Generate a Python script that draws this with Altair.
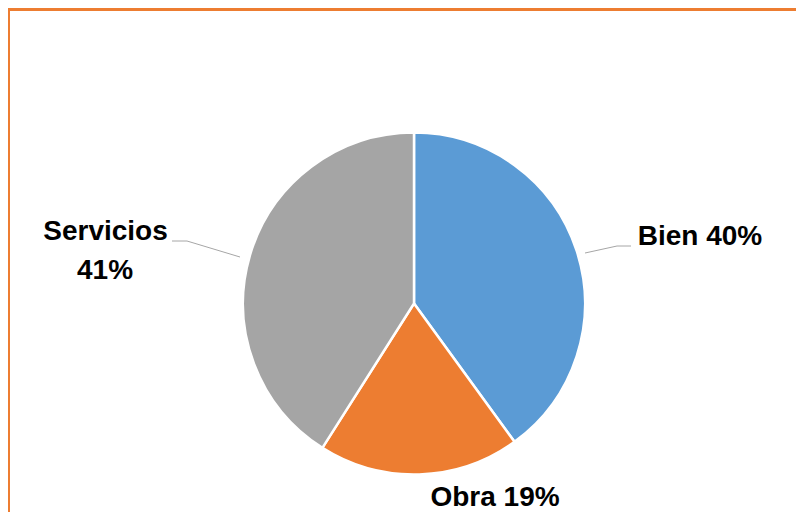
import altair as alt
import pandas as pd

# Data
categories = ["Bien", "Obra", "Servicios"]
values = [40, 19, 41]
colors = ["#5B9BD5", "#ED7D31", "#A5A5A5"]

# Label texts
label_texts = ["Bien 40%", "Obra 19%", "Servicios", "41%"]
# Label layout (pixel positions inside the chart)
label_x = [692, 487, 97.5, 97]
label_y = [229, 490, 224, 263]

# Leader lines layout
leader_id = ["s", "s", "s", "b", "b", "b"]
leader_x = [164, 179, 232, 577, 609, 623]
leader_y = [233, 233, 249, 245, 238, 238]

W, H = 788, 504
CX, CY, R = 406, 295.5, 171

pie_df = pd.DataFrame({"cat": categories, "value": values, "idx": list(range(len(categories)))})
lab_df = pd.DataFrame({"t": label_texts, "x": label_x, "y": label_y})
lead_df = pd.DataFrame({"g": leader_id, "x": leader_x, "y": leader_y, "o": list(range(len(leader_x)))})

xs = alt.Scale(domain=[0, W], range=[0, W], nice=False, zero=False)
ys = alt.Scale(domain=[0, H], range=[0, H], nice=False, zero=False)

pie = alt.Chart(pie_df).mark_arc(outerRadius=R, stroke="white", strokeWidth=2.5).encode(
    theta=alt.Theta("value:Q", stack=True),
    color=alt.Color("cat:N", scale=alt.Scale(domain=categories, range=colors), legend=None),
    order=alt.Order("idx:Q"),
    x=alt.value(CX),
    y=alt.value(CY),
)

leaders = alt.Chart(lead_df).mark_line(color="#A6A6A6", strokeWidth=1).encode(
    x=alt.X("x:Q", scale=xs, axis=None),
    y=alt.Y("y:Q", scale=ys, axis=None),
    detail="g:N",
    order="o:Q",
)

labels = alt.Chart(lab_df).mark_text(
    font="Liberation Sans", fontSize=28, fontWeight="bold", color="#000000",
    align="center", baseline="middle",
).encode(
    x=alt.X("x:Q", scale=xs, axis=None),
    y=alt.Y("y:Q", scale=ys, axis=None),
    text="t:N",
)

frame_top = alt.Chart(pd.DataFrame({"a": [0]})).mark_rule(color="#ED7D31", strokeWidth=3).encode(
    x=alt.value(0), x2=alt.value(W), y=alt.value(1.5)
)
frame_left = alt.Chart(pd.DataFrame({"a": [0]})).mark_rule(color="#ED7D31", strokeWidth=2).encode(
    x=alt.value(1), y=alt.value(0), y2=alt.value(H)
)

chart = alt.layer(pie, leaders, labels, frame_top, frame_left).properties(
    width=W, height=H, autosize=alt.AutoSizeParams(type="none"), padding=0, background="white"
).configure_view(stroke=None)

chart.save("out.html", embed_options={"renderer": "svg", "actions": False})
